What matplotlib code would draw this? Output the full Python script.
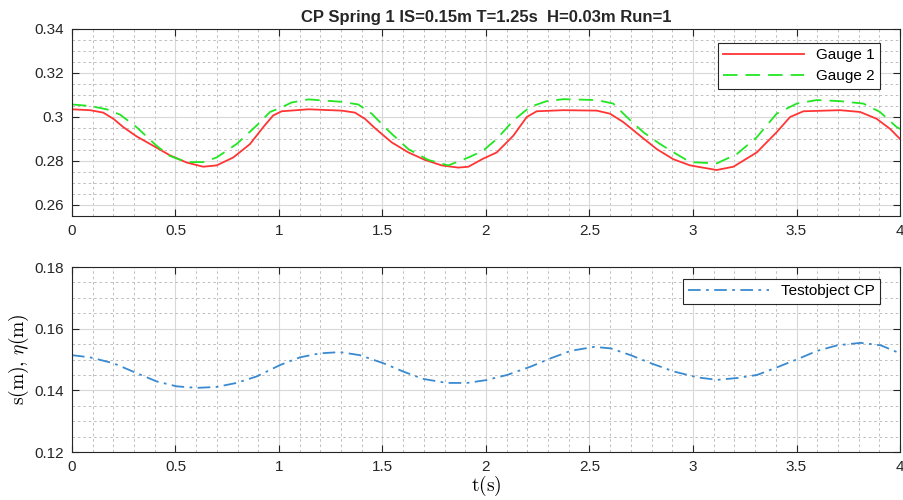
import numpy as np
import matplotlib
matplotlib.use("Agg")
import matplotlib.pyplot as plt
from matplotlib.ticker import MultipleLocator

plt.rcParams['font.family'] = ['Liberation Sans', 'DejaVu Sans']
plt.rcParams['mathtext.fontset'] = 'cm'

# values
t_g1 = [0, 0.087, 0.151, 0.2, 0.248, 0.312, 0.393, 0.473, 0.554, 0.634, 0.699,
        0.779, 0.860, 0.924, 0.972, 1.013, 1.142, 1.303, 1.367, 1.415, 1.464,
        1.544, 1.625, 1.705, 1.786, 1.866, 1.915, 1.985, 2.052, 2.132, 2.197,
        2.245, 2.374, 2.535, 2.599, 2.663, 2.744, 2.825, 2.905, 2.986, 3.114,
        3.195, 3.308, 3.404, 3.469, 3.533, 3.71, 3.807, 3.887, 3.952, 4.0]
gauge1 = [0.3035, 0.3031, 0.302, 0.2992, 0.2954, 0.2912, 0.2869, 0.2826, 0.2793,
          0.2774, 0.2780, 0.2816, 0.2877, 0.2954, 0.3007, 0.3026, 0.3035, 0.3029,
          0.302, 0.2992, 0.2949, 0.2885, 0.2839, 0.2805, 0.2780, 0.2770, 0.2774,
          0.2810, 0.2839, 0.2915, 0.300, 0.3026, 0.3031, 0.3029, 0.3015, 0.2977,
          0.2915, 0.2854, 0.2808, 0.278, 0.2759, 0.2774, 0.2839, 0.2931, 0.300,
          0.3026, 0.3031, 0.3023, 0.2992, 0.2946, 0.290]

t_g2 = [0, 0.087, 0.168, 0.232, 0.312, 0.409, 0.473, 0.554, 0.634, 0.699, 0.795,
        0.892, 0.957, 1.005, 1.061, 1.142, 1.303, 1.383, 1.448, 1.528, 1.625,
        1.721, 1.818, 1.915, 1.985, 2.052, 2.132, 2.213, 2.293, 2.374, 2.535,
        2.615, 2.68, 2.76, 2.841, 2.921, 2.986, 3.114, 3.211, 3.308, 3.404,
        3.501, 3.598, 3.71, 3.823, 3.903, 3.984, 4.0]
gauge2 = [0.3057, 0.3050, 0.3035, 0.3011, 0.2954, 0.2869, 0.2823, 0.2795, 0.2795,
          0.2816, 0.2877, 0.2961, 0.3023, 0.3041, 0.3066, 0.308, 0.3069, 0.3057,
          0.3015, 0.2938, 0.2854, 0.2805, 0.2780, 0.2816, 0.2846, 0.290, 0.2984,
          0.3046, 0.3072, 0.3081, 0.3077, 0.3061, 0.300, 0.2931, 0.2877, 0.2831,
          0.2795, 0.2789, 0.2831, 0.2908, 0.3015, 0.3061, 0.3077, 0.3072, 0.3061,
          0.3023, 0.2954, 0.2946]

t_cp = [0, 0.087, 0.2, 0.312, 0.409, 0.505, 0.602, 0.699, 0.795, 0.892, 1.005,
        1.101, 1.198, 1.295, 1.391, 1.504, 1.6, 1.697, 1.81, 1.907, 2.0, 2.103,
        2.216, 2.313, 2.409, 2.522, 2.603, 2.699, 2.796, 2.908, 3.021, 3.117,
        3.214, 3.31, 3.407, 3.504, 3.6, 3.697, 3.81, 3.907, 4.0]
testobj = [0.1514, 0.1507, 0.1488, 0.1456, 0.1429, 0.1413, 0.1408, 0.1411, 0.1424,
           0.1445, 0.1482, 0.1507, 0.152, 0.1524, 0.1514, 0.1488, 0.1461, 0.1437,
           0.1424, 0.1424, 0.1433, 0.145, 0.1477, 0.1504, 0.1528, 0.1541, 0.1536,
           0.1514, 0.1488, 0.1461, 0.1442, 0.1434, 0.144, 0.145, 0.1475, 0.1501,
           0.1528, 0.1546, 0.1554, 0.1546, 0.152]

title = 'CP Spring 1 IS=0.15m T=1.25s  H=0.03m Run=1'

fig = plt.figure(figsize=(9.04, 5.0), dpi=100)
ax1 = fig.add_axes([0.0796, 0.568, 0.916, 0.374])
ax2 = fig.add_axes([0.0796, 0.096, 0.916, 0.370])


def style(ax, ylim, ymaj):
    ax.set_xlim(0, 4)
    ax.set_ylim(*ylim)
    ax.xaxis.set_major_locator(MultipleLocator(0.5))
    ax.xaxis.set_minor_locator(MultipleLocator(0.1))
    ax.yaxis.set_major_locator(MultipleLocator(ymaj))
    ax.yaxis.set_minor_locator(MultipleLocator(0.005))
    ax.grid(True, which='major', color='#d8d8d8', lw=0.8, ls='-')
    ax.grid(True, which='minor', color='#b3b3b3', lw=0.6, ls=(0, (3, 3.5)))
    ax.set_axisbelow(True)
    ax.tick_params(which='major', direction='in', top=True, right=True,
                   length=5, width=0.8, color='#262626',
                   labelsize=11, labelcolor='#262626', pad=6)
    ax.tick_params(which='minor', length=0)
    for s in ax.spines.values():
        s.set_color('#262626')
        s.set_linewidth(0.8)
    ax.xaxis.set_major_formatter(plt.FuncFormatter(lambda v, p: f'{v:g}'))
    ax.yaxis.set_major_formatter(plt.FuncFormatter(lambda v, p: f'{v:g}'))


style(ax1, (0.255, 0.34), 0.02)
style(ax2, (0.12, 0.18), 0.02)

ax1.plot(t_g1, gauge1, color='#ff3535', lw=1.3, label='Gauge 1')
ax1.plot(t_g2, gauge2, color='#22e622', lw=1.3, ls=(0, (8, 4.5)), label='Gauge 2')
ax1.set_title(title, fontsize=12, fontweight='bold', color='#262626', pad=5)
leg1 = ax1.legend(loc='upper right', fontsize=11, fancybox=False, framealpha=1,
                  edgecolor='#262626', handlelength=5.3, borderpad=0.35,
                  labelspacing=0.45, borderaxespad=0,
                  bbox_to_anchor=(0.976, 0.925))
leg1.get_frame().set_linewidth(0.8)

ax2.plot(t_cp, testobj, color='#3a8ad0', lw=1.3, ls=(0, (7, 3, 1.5, 3)),
         label='Testobject CP')
leg2 = ax2.legend(loc='upper right', fontsize=11, fancybox=False, framealpha=1,
                  edgecolor='#262626', handlelength=5.3, borderpad=0.35,
                  borderaxespad=0, bbox_to_anchor=(0.976, 0.935))
leg2.get_frame().set_linewidth(0.8)

ax2.set_xlabel(r'$\mathrm{t(s)}$', fontsize=14, labelpad=0)
ax2.set_ylabel(r'$\mathrm{s(m)},\,\eta(\mathrm{m})$', fontsize=14, labelpad=2)

fig.savefig('out.png', dpi=100)
